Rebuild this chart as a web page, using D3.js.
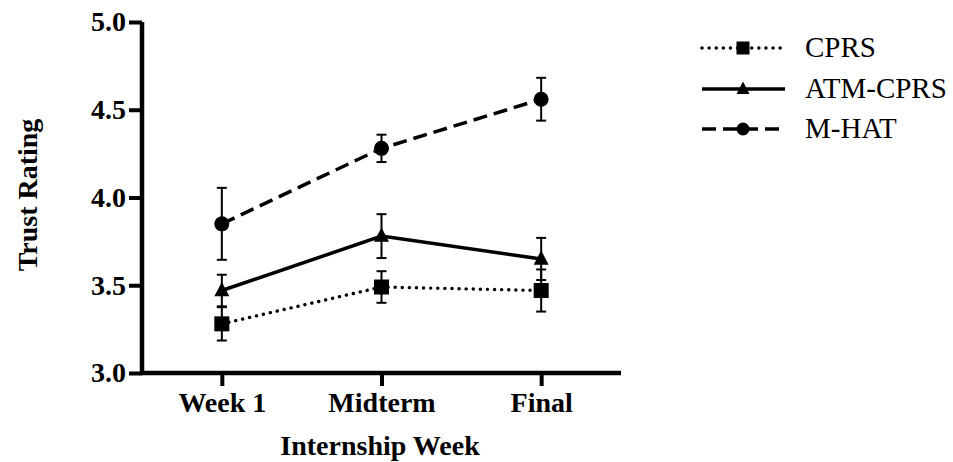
<!DOCTYPE html>
<html>
<head>
<meta charset="utf-8">
<script src="https://cdn.jsdelivr.net/npm/d3@7"></script>
<style>
  html, body { margin: 0; padding: 0; background: #fff; }
  svg { display: block; }
  text { font-family: "Liberation Serif", "Times New Roman", serif; fill: #000; }
</style>
</head>
<body>
<svg id="chart" width="953" height="462"></svg>
<script>
const categories = ["Week 1", "Midterm", "Final"];
const seriesNames = ["CPRS", "ATM-CPRS", "M-HAT"];
const cprsMean = [3.28, 3.49, 3.47];
const cprsErr = [0.095, 0.09, 0.12];
const atmMean = [3.47, 3.78, 3.65];
const atmErr = [0.09, 0.125, 0.12];
const mhatMean = [3.85, 4.28, 4.56];
const mhatErr = [0.205, 0.078, 0.122];
const yTicks = [3.0, 3.5, 4.0, 4.5, 5.0];

const series = [
  { name: seriesNames[0], mean: cprsMean, err: cprsErr, marker: "square", dash: "0.1 7", cap: "round" },
  { name: seriesNames[1], mean: atmMean, err: atmErr, marker: "triangle", dash: null, cap: "butt" },
  { name: seriesNames[2], mean: mhatMean, err: mhatErr, marker: "circle", dash: "14 7", cap: "butt" }
];

const svg = d3.select("#chart");
const plotLeft = 142, plotRight = 621, plotTop = 22, plotBottom = 373;

const x = d3.scalePoint().domain(categories).range([plotLeft, plotRight]).padding(0.5);
const y = d3.scaleLinear().domain([3.0, 5.0]).range([plotBottom, plotTop]);

// Axes
const yAxis = svg.append("g").attr("transform", `translate(${plotLeft},0)`)
  .call(d3.axisLeft(y).tickValues(yTicks).tickFormat(d3.format(".1f")).tickSize(13).tickPadding(3));
const xAxis = svg.append("g").attr("transform", `translate(0,${plotBottom})`)
  .call(d3.axisBottom(x).tickSize(13).tickPadding(6));
[yAxis, xAxis].forEach(g => {
  g.select(".domain").attr("stroke", "#000").attr("stroke-width", 4.5);
  g.selectAll(".tick line").attr("stroke", "#000").attr("stroke-width", 4);
  g.selectAll(".tick text").style("font-family", "'Liberation Serif', serif")
    .style("font-weight", "bold").style("font-size", "28px").attr("fill", "#000");
});
yAxis.select(".domain").attr("d", `M0,${plotTop}V${plotBottom}`);
xAxis.select(".domain").attr("d", `M${plotLeft - 2},0H${plotRight}`);
xAxis.selectAll(".tick text").attr("dy", "0.71em");

// Axis titles
svg.append("text").attr("x", 380).attr("y", 455).attr("text-anchor", "middle")
  .style("font-weight", "bold").style("font-size", "28px").text("Internship Week");
svg.append("text").attr("transform", "translate(37,195) rotate(-90)").attr("text-anchor", "middle")
  .style("font-weight", "bold").style("font-size", "28px").text("Trust Rating");

function drawMarker(g, type, cx, cy, s) {
  if (type === "square") {
    g.append("rect").attr("x", cx - s / 2).attr("y", cy - s / 2).attr("width", s).attr("height", s).attr("fill", "#000");
  } else if (type === "circle") {
    g.append("circle").attr("cx", cx).attr("cy", cy).attr("r", s / 2).attr("fill", "#000");
  } else {
    const h = s * 0.95;
    g.append("path").attr("d", `M${cx},${cy - h * 0.6}L${cx + s / 2},${cy + h * 0.4}L${cx - s / 2},${cy + h * 0.4}Z`).attr("fill", "#000");
  }
}

const line = d3.line().x((d, i) => x(categories[i])).y(d => y(d));

const plot = svg.append("g");
series.forEach(s => {
  const g = plot.append("g");
  s.mean.forEach((m, i) => {
    const cx = x(categories[i]);
    const y1 = y(m + s.err[i]), y0 = y(m - s.err[i]);
    g.append("line").attr("x1", cx).attr("x2", cx).attr("y1", y1).attr("y2", y0).attr("stroke", "#000").attr("stroke-width", 2);
    [y1, y0].forEach(yy => g.append("line").attr("x1", cx - 5).attr("x2", cx + 5).attr("y1", yy).attr("y2", yy).attr("stroke", "#000").attr("stroke-width", 2));
  });
  g.append("path").attr("d", line(s.mean)).attr("fill", "none").attr("stroke", "#000")
    .attr("stroke-width", s.dash === "0.1 7" ? 3.4 : 3.5)
    .attr("stroke-dasharray", s.dash).attr("stroke-linecap", s.cap);
  s.mean.forEach((m, i) => drawMarker(g, s.marker, x(categories[i]), y(m), 15));
});

// Legend
const legRows = [48, 89, 129];
series.forEach((s, i) => {
  const g = svg.append("g");
  const ly = legRows[i];
  g.append("line").attr("x1", 702).attr("x2", 785).attr("y1", ly).attr("y2", ly).attr("stroke", "#000")
    .attr("stroke-width", s.dash === "0.1 7" ? 3.4 : 3.5)
    .attr("stroke-dasharray", s.dash).attr("stroke-linecap", s.cap);
  drawMarker(g, s.marker, 743, ly, 13);
  g.append("text").attr("x", 805).attr("y", ly + 9).style("font-size", "29px").text(s.name);
});
</script>
</body>
</html>
